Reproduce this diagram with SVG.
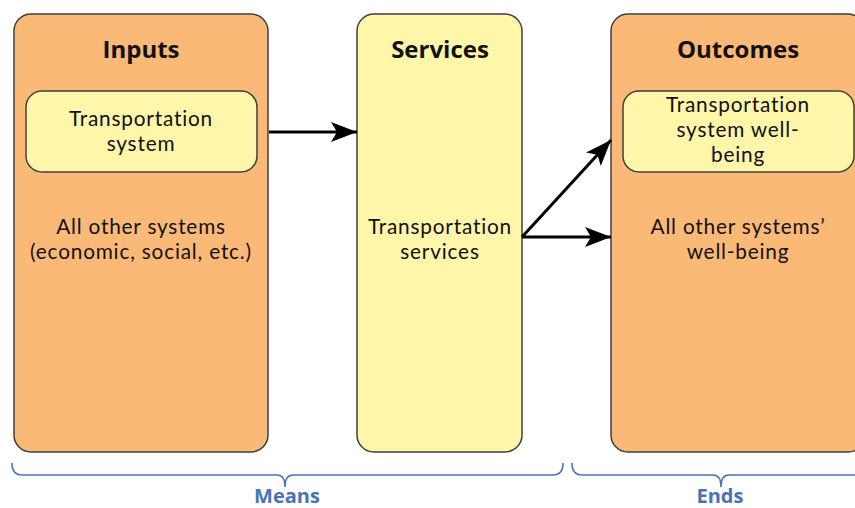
<svg xmlns="http://www.w3.org/2000/svg" width="855" height="508" viewBox="0 0 855 508">
  <style>
    .col-orange { fill: #fbb977; stroke: #404040; stroke-width: 1.5; }
    .col-yellow { fill: #fff6aa; stroke: #404040; stroke-width: 1.5; }
    .title { font-family: "Open Sans", "Noto Sans", sans-serif; font-weight: bold; font-size: 24px; fill: #111; text-anchor: middle; }
    .body { font-family: Lato, "Open Sans", sans-serif; font-size: 20.8px; letter-spacing: 0.8px; font-variant-ligatures: none; fill: #111; text-anchor: middle; }
    .link { stroke: #000; stroke-width: 3; fill: none; marker-end: url(#arrow); }
    .brace { stroke: #4a72b8; stroke-width: 1.6; fill: none; }
    .brace-label { font-family: "Open Sans", "Noto Sans", sans-serif; font-weight: bold; font-size: 20px; fill: #4a72b8; text-anchor: middle; }
  </style>
  <defs>
    <marker id="arrow" markerUnits="userSpaceOnUse" markerWidth="28" markerHeight="22" refX="26" refY="11" orient="auto">
      <path d="M0,1 L26,11 L0,21 L6,11 Z" fill="#000"/>
    </marker>
  </defs>

  <g id="inputs">
    <rect class="col-orange" x="14" y="14" width="254" height="438" rx="17"/>
    <text class="title" x="141" y="58">Inputs</text>
    <rect class="col-yellow" x="26" y="91" width="231" height="81" rx="16"/>
    <text class="body" x="141" y="126">Transportation</text>
    <text class="body" x="141" y="151">system</text>
    <text class="body" x="141" y="234">All other systems</text>
    <text class="body" x="141" y="259">(economic, social, etc.)</text>
  </g>

  <g id="services">
    <rect class="col-yellow" x="357" y="14" width="165" height="438" rx="17"/>
    <text class="title" x="440" y="58">Services</text>
    <text class="body" x="440" y="234">Transportation</text>
    <text class="body" x="440" y="259">services</text>
  </g>

  <g id="outcomes">
    <rect class="col-orange" x="611" y="14" width="254" height="438" rx="17"/>
    <text class="title" x="738" y="58">Outcomes</text>
    <rect class="col-yellow" x="623" y="91" width="231" height="81" rx="16"/>
    <text class="body" x="738" y="112">Transportation</text>
    <text class="body" x="738" y="137">system well-</text>
    <text class="body" x="738" y="162">being</text>
    <text class="body" x="738" y="234">All other systems’</text>
    <text class="body" x="738" y="259">well-being</text>
  </g>

  <g id="connectors">
    <line class="link" x1="269" y1="132" x2="357" y2="132"/>
    <line class="link" x1="522" y1="237" x2="611" y2="140"/>
    <line class="link" x1="522" y1="237" x2="611" y2="237"/>
  </g>

  <g id="means">
    <path class="brace" d="M12,463 Q12,475 22,475 L277,475 Q285,475 285,487 Q285,475 293,475 L553,475 Q563,475 563,463"/>
    <text class="brace-label" x="287" y="503">Means</text>
  </g>

  <g id="ends">
    <path class="brace" d="M572,463 Q572,475 582,475 L713,475 Q721,475 721,487 Q721,475 729,475 L860,475"/>
    <text class="brace-label" x="720" y="503">Ends</text>
  </g>
</svg>
